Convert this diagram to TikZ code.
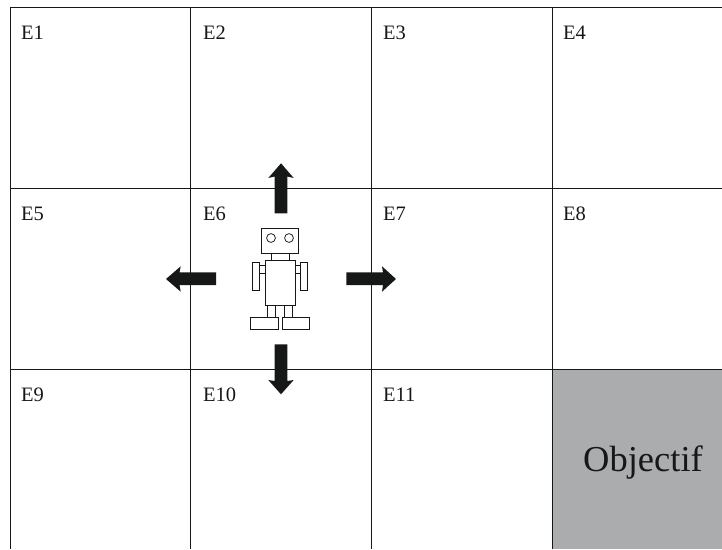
\documentclass[tikz,border=0pt]{standalone}
\usepackage{fontspec}
\setmainfont{Liberation Serif}
\definecolor{ink}{HTML}{161818}
\definecolor{goal}{HTML}{ABACAE}
\tikzset{
  grid line/.style={draw=ink,line width=0.9pt},
  robot part/.style={draw=ink,line width=0.75pt,fill=white},
  move arrow/.style={fill=ink,draw=none},
  cell label/.style={font=\fontsize{20.5}{22}\selectfont,text=ink,anchor=base west,inner sep=0pt},
  goal label/.style={font=\fontsize{36.5}{40}\selectfont,text=ink,anchor=base,inner sep=0pt}
}
\begin{document}
\begin{tikzpicture}[x=1pt,y=-1pt]
\useasboundingbox (0,0) rectangle (722,549);
\fill[goal] (552,369) rectangle (722,549);
% grid
\draw[grid line] (722,7.5) -- (10,7.5) -- (10,549);
\draw[grid line] (190.5,7.5) -- (190.5,549);
\draw[grid line] (371,7.5) -- (371,549);
\draw[grid line] (552,7.5) -- (552,549);
\draw[grid line] (10,188) -- (722,188);
\draw[grid line] (10,369) -- (722,369);
% labels
\node[cell label] (e1) at (21,39.7) {E1};
\node[cell label] (e2) at (203,39.7) {E2};
\node[cell label] (e3) at (383,39.7) {E3};
\node[cell label] (e4) at (563,39.7) {E4};
\node[cell label] (e5) at (21,220.6) {E5};
\node[cell label] (e6) at (203,220.6) {E6};
\node[cell label] (e7) at (383,220.6) {E7};
\node[cell label] (e8) at (563,220.6) {E8};
\node[cell label] (e9) at (21,401.5) {E9};
\node[cell label] (e10) at (203,401.5) {E10};
\node[cell label] (e11) at (383,401.5) {E11};
\node[goal label] (goal) at (643,471.5) {Objectif};
% arrows
\fill[move arrow] (274.7,213.3) -- (274.7,176.5) -- (268.3,178) -- (281,163.3) -- (293.7,178) -- (287.3,176.5) -- (287.3,213.3) -- cycle;
\fill[move arrow] (274.7,344.3) -- (274.7,381) -- (268.3,380) -- (281,394.3) -- (293.7,380) -- (287.3,381) -- (287.3,344.3) -- cycle;
\fill[move arrow] (216,272.3) -- (179.5,272.3) -- (180.7,266.3) -- (166,279) -- (180.7,291.7) -- (179.5,285) -- (216,285) -- cycle;
\fill[move arrow] (346.3,272.3) -- (383,272.3) -- (382,266.3) -- (396,279) -- (382,291.7) -- (383,285) -- (346.3,285) -- cycle;
% robot
\draw[robot part] (261.7,228.7) rectangle (298.3,253.7);
\draw[robot part] (271,238) circle (4.4);
\draw[robot part] (289,238) circle (4.4);
\draw[robot part] (271.3,253.7) rectangle (289.3,260.3);
\draw[robot part] (265,260.3) rectangle (295.3,305.3);
\draw[robot part] (259,265.3) rectangle (265,273.7);
\draw[robot part] (295.3,265.3) rectangle (301.3,273.7);
\draw[robot part] (252.7,262.7) rectangle (259.3,290.3);
\draw[robot part] (300.7,262.7) rectangle (307.3,290.3);
\draw[robot part] (267.7,305.3) rectangle (275.7,317.3);
\draw[robot part] (284.7,305.3) rectangle (292.7,317.3);
\draw[robot part] (250.7,317.3) rectangle (278.3,329.7);
\draw[robot part] (282,317.3) rectangle (309.3,329.7);
\end{tikzpicture}
\end{document}
